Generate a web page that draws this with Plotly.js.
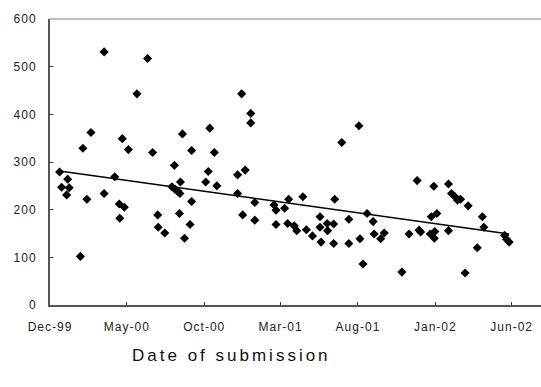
<!DOCTYPE html>
<html><head><meta charset="utf-8">
<script src="https://cdn.plot.ly/plotly-3.0.1.min.js"></script>
<style>
html,body{margin:0;padding:0;background:#fff;}
#chart{width:541px;height:387px;}
.xtick text,.ytick text{letter-spacing:1px;}
.annotation-text{letter-spacing:3px;}
</style></head><body><div id="chart"></div>
<script>
const submissionDates = [
"1999-12-20","1999-12-24","2000-01-03","2000-01-05","2000-01-08","2000-01-30","2000-02-04","2000-02-12","2000-02-20","2000-03-17",
"2000-03-17","2000-04-07","2000-04-16","2000-04-17","2000-04-22","2000-04-26","2000-05-04","2000-05-21","2000-06-11","2000-06-21",
"2000-07-01","2000-07-02","2000-07-15","2000-07-29","2000-08-03","2000-08-04","2000-08-09","2000-08-13","2000-08-14","2000-08-15",
"2000-08-19","2000-08-23","2000-09-03","2000-09-06","2000-09-06","2000-10-04","2000-10-09","2000-10-12","2000-10-21","2000-10-26",
"2000-12-06","2000-12-06","2000-12-14","2000-12-16","2000-12-21","2001-01-01","2001-01-01","2001-01-09","2001-01-09","2001-02-16",
"2001-02-20","2001-02-20","2001-03-09","2001-03-15","2001-03-17","2001-03-28","2001-04-02","2001-04-14","2001-04-21","2001-05-03",
"2001-05-18","2001-05-18","2001-05-20","2001-06-01","2001-06-02","2001-06-14","2001-06-14","2001-06-16","2001-06-30","2001-07-14",
"2001-07-14","2001-08-03","2001-08-05","2001-08-11","2001-08-19","2001-08-31","2001-09-02","2001-09-15","2001-09-22","2001-10-27",
"2001-11-10","2001-11-26","2001-11-30","2001-12-03","2001-12-22","2001-12-24","2001-12-29","2001-12-30","2001-12-31","2002-01-04",
"2002-01-27","2002-01-27","2002-02-02","2002-02-09","2002-02-14","2002-02-20","2002-03-01","2002-03-07","2002-03-25","2002-04-04",
"2002-04-07","2002-05-18","2002-05-22","2002-05-27"
];
const values = [
279,247,231,264,246,102,329,222,362,531,
234,269,212,182,349,205,326,443,517,320,
189,163,151,248,293,243,239,192,234,258,
359,140,169,324,217,258,280,371,320,250,
273,234,443,189,283,402,382,215,178,210,
199,169,203,171,222,166,156,227,158,145,
185,163,132,171,156,170,129,222,341,180,
129,376,139,86,192,175,149,139,151,69,
149,261,157,153,149,185,249,140,154,192,
254,156,234,227,220,222,67,208,120,185,
163,146,138,132
];
// linear trend line at its two ends
const trendDates = ["1999-12-20","2002-05-27"];
const trendValues = [281, 149];

const tickDates = ["1999-12-01","2000-05-01","2000-10-01","2001-03-01","2001-08-01","2002-01-01","2002-06-01"];
const tickLabels = ["Dec-99","May-00","Oct-00","Mar-01","Aug-01","Jan-02","Jun-02"];
const yTicks = [0,100,200,300,400,500,600];
const xTitle = "Date of submission";

const data = [
  {type:'scatter', mode:'lines', x:trendDates, y:trendValues, line:{color:'#000', width:1.5}, hoverinfo:'skip'},
  {type:'scatter', mode:'markers', x:submissionDates, y:values,
   marker:{symbol:'diamond', size:7, color:'#000'}}
];

const layout = {
  width:541, height:387,
  margin:{l:50, r:0, t:19, b:82},
  paper_bgcolor:'#fff', plot_bgcolor:'#fff',
  showlegend:false,
  font:{family:'Liberation Sans, Arial, sans-serif', size:12, color:'#222'},
  xaxis:{type:'date', range:['1999-12-01','2002-07-29'], tickmode:'array', tickvals:tickDates, ticktext:tickLabels,
    ticks:'inside', ticklen:3, tickcolor:'#333', tickwidth:1, showline:true, linecolor:'#555', linewidth:2,
    showgrid:false, zeroline:false, ticklabelstandoff:10, tickfont:{size:12}},
  yaxis:{range:[0,600], tickmode:'array', tickvals:yTicks, ticks:'inside', ticklen:3, tickcolor:'#333', tickwidth:1,
    showline:true, linecolor:'#555', linewidth:2, showgrid:false, zeroline:false, ticklabelstandoff:9, tickfont:{size:12}},
  shapes:[{type:'line', xref:'paper', yref:'paper', x0:0, x1:1, y0:1, y1:1, line:{color:'#aaa', width:1.5}}],
  annotations:[{text:xTitle, xref:'paper', yref:'paper', x:0.37, y:-0.178, xanchor:'center', yanchor:'middle',
    showarrow:false, font:{size:17, color:'#111'}}]
};

Plotly.newPlot('chart', data, layout, {displayModeBar:false, staticPlot:true});
</script></body></html>
